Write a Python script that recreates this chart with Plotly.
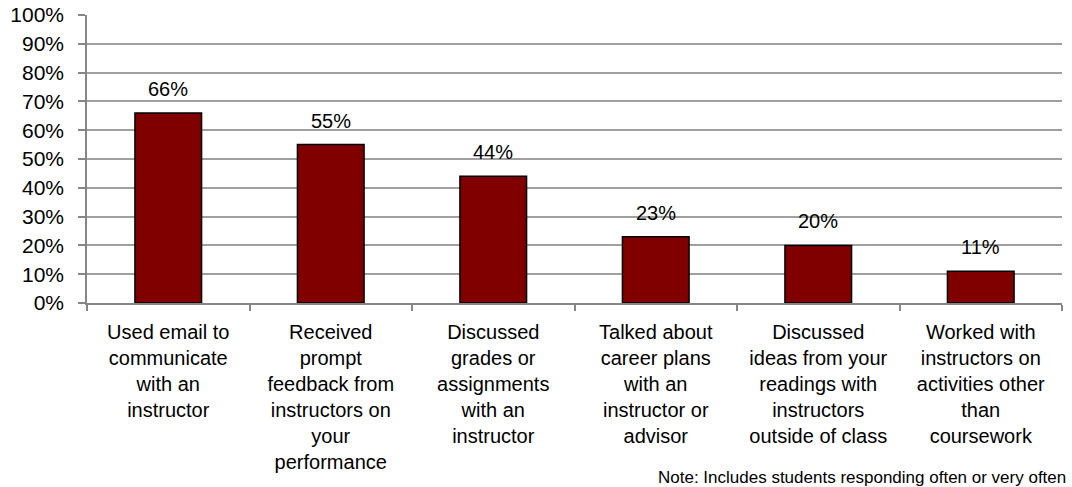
import plotly.graph_objects as go

categories = [
    "Used email to<br>communicate<br>with an<br>instructor",
    "Received<br>prompt<br>feedback from<br>instructors on<br>your<br>performance",
    "Discussed<br>grades or<br>assignments<br>with an<br>instructor",
    "Talked about<br>career plans<br>with an<br>instructor or<br>advisor",
    "Discussed<br>ideas from your<br>readings with<br>instructors<br>outside of class",
    "Worked with<br>instructors on<br>activities other<br>than<br>coursework",
]
values = [0.66, 0.55, 0.44, 0.23, 0.20, 0.11]
labels = ["66%", "55%", "44%", "23%", "20%", "11%"]

FONT = "Liberation Sans, Arial, sans-serif"

fig = go.Figure(go.Bar(
    x=categories, y=values,
    marker=dict(color="#800000", line=dict(color="#000000", width=1.5)),
))

for c, v, t in zip(categories, values, labels):
    fig.add_annotation(
        x=c, y=v, text=t, showarrow=False, yanchor="middle", yshift=24,
        font=dict(family=FONT, size=20, color="#000000"),
    )

fig.update_layout(
    width=1072, height=487,
    margin=dict(l=87, r=10, t=15, b=184),
    paper_bgcolor="white", plot_bgcolor="white",
    bargap=0.59, showlegend=False,
    font=dict(family=FONT, size=20, color="#000000"),
)
fig.update_yaxes(
    range=[0, 1], dtick=0.1, tickformat=".0%",
    showgrid=True, gridcolor="#A0A0A0", gridwidth=1.5,
    showline=True, linecolor="#868686", linewidth=1.5,
    ticks="outside", ticklen=7, tickcolor="#868686", tickwidth=1.5,
    ticklabelstandoff=10,
    tickfont=dict(family=FONT, size=21, color="#000000"),
    zeroline=False, automargin=False,
)
fig.update_xaxes(
    showline=True, linecolor="#868686", linewidth=1.5,
    ticks="outside", ticklen=6, tickcolor="#868686", tickwidth=1.5,
    tickson="boundaries", ticklabelstandoff=10,
    tickfont=dict(family=FONT, size=20, color="#000000"),
    tickangle=0, automargin=False,
)
fig.add_annotation(
    text="Note: Includes students responding often or very often",
    xref="paper", yref="paper", x=1.0 + 6 / 975, y=-0.605,
    xanchor="right", yanchor="middle", showarrow=False,
    font=dict(family=FONT, size=17, color="#000000"),
)
fig.write_html(
    "out.html",
    config={"displayModeBar": False},
    post_script="document.body.style.margin='0';",
)
